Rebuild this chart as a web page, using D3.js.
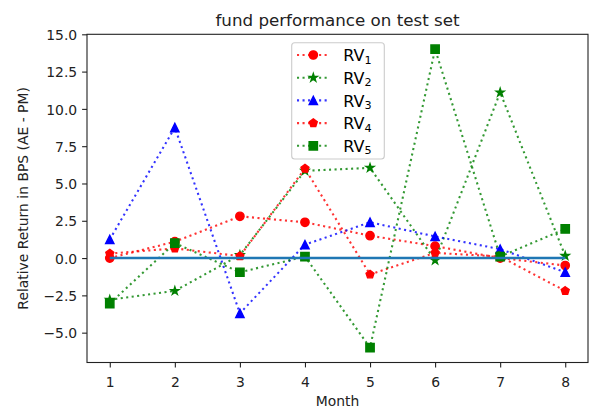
<!DOCTYPE html>
<html><head><meta charset="utf-8">
<script src="https://cdn.jsdelivr.net/npm/d3@7"></script>
<style>body{margin:0;background:#fff}svg{display:block}text{font-family:"DejaVu Sans",sans-serif}</style>
</head><body><svg id="c" width="589" height="411"></svg>
<script>
const months = [1, 2, 3, 4, 5, 6, 7, 8];
const rv1 = [0.0, 1.1, 2.8, 2.4, 1.5, 0.8, 0.0, -0.5];
const rv2 = [-2.8, -2.2, 0.2, 5.85, 6.05, -0.15, 11.1, 0.15];
const rv3 = [1.25, 8.75, -3.7, 0.9, 2.4, 1.45, 0.6, -0.95];
const rv4 = [0.3, 0.65, 0.13, 6.0, -1.1, 0.35, 0.1, -2.2];
const rv5 = [-3.05, 1.0, -0.95, 0.1, -6.0, 14.0, 0.1, 1.95];
const baseline = [0, 0, 0, 0, 0, 0, 0, 0];
const seriesNames = ["RV", "RV", "RV", "RV", "RV"];
const seriesSubs = ["1", "2", "3", "4", "5"];
const seriesColors = ["#ff0000", "#008000", "#0000ff", "#ff0000", "#008000"];
const seriesMarkers = ["circle", "star", "triangle", "pentagon", "square"];
const seriesValues = [rv1, rv2, rv3, rv4, rv5];
const yTicks = [-5.0, -2.5, 0.0, 2.5, 5.0, 7.5, 10.0, 12.5, 15.0];
const titleText = "fund performance on test set";
const xLabel = "Month";
const yLabel = "Relative Return in BPS (AE - PM)";

const svg = d3.select("#c");
const L = 87, R = 588, T = 34.3, B = 362.5;
const x = d3.scaleLinear().domain([0.65, 8.35]).range([L, R]);
const y = d3.scaleLinear().domain([-7, 15]).range([B, T]);

function markerPath(type, r) {
  const p = d3.path();
  if (type === "circle") { p.arc(0, 0, r, 0, 2 * Math.PI); p.closePath(); return p.toString(); }
  if (type === "square") { p.rect(-r, -r, 2 * r, 2 * r); return p.toString(); }
  if (type === "triangle") { p.moveTo(0, -r); p.lineTo(-r, r); p.lineTo(r, r); p.closePath(); return p.toString(); }
  if (type === "pentagon") {
    for (let i = 0; i < 5; i++) { const a = -Math.PI / 2 + i * 2 * Math.PI / 5; const px = r * Math.cos(a), py = r * Math.sin(a); i ? p.lineTo(px, py) : p.moveTo(px, py); }
    p.closePath(); return p.toString();
  }
  if (type === "star") {
    for (let i = 0; i < 10; i++) { const a = -Math.PI / 2 + i * Math.PI / 5; const rr = i % 2 ? r * 0.381966 : r; const px = rr * Math.cos(a), py = rr * Math.sin(a); i ? p.lineTo(px, py) : p.moveTo(px, py); }
    p.closePath(); return p.toString();
  }
}

svg.append("rect").attr("x", L).attr("y", T).attr("width", R - L).attr("height", B - T).attr("fill", "#fff");

const line = d3.line().x((d, i) => x(months[i])).y(d => y(d));
const ms = 4.17;

seriesValues.forEach((vals, k) => {
  const g = svg.append("g");
  g.append("path").attr("d", line(vals)).attr("fill", "none").attr("stroke", seriesColors[k])
    .attr("stroke-width", 2.08).attr("stroke-dasharray", "2.08,3.44").attr("stroke-opacity", 0.8);
  g.selectAll("path.m").data(vals).enter().append("path").attr("class", "m")
    .attr("d", markerPath(seriesMarkers[k], ms))
    .attr("transform", (d, i) => `translate(${x(months[i])},${y(d)})`)
    .attr("fill", seriesColors[k]).attr("stroke", seriesColors[k]).attr("stroke-width", 1.39);
});

svg.append("path").attr("d", line(baseline)).attr("fill", "none").attr("stroke", "#1f77b4").attr("stroke-width", 2.5);

const xAxis = d3.axisBottom(x).tickValues(months).tickSize(4.9).tickPadding(4.9).tickFormat(d3.format("d"));
const yAxis = d3.axisLeft(y).tickValues(yTicks).tickSize(4.9).tickPadding(4.9).tickFormat(d3.format(".1f"));
const gx = svg.append("g").attr("transform", `translate(0,${B})`).call(xAxis);
const gy = svg.append("g").attr("transform", `translate(${L},0)`).call(yAxis);
[gx, gy].forEach(g => {
  g.select(".domain").remove();
  g.selectAll("line").attr("stroke", "#222").attr("stroke-width", 1.1);
  g.selectAll("text").attr("font-family", "DejaVu Sans").attr("font-size", 13.9).attr("fill", "#222");
});
gx.selectAll("text").attr("dy", null).attr("y", 24.2);
gy.selectAll("text").attr("dy", null).attr("dominant-baseline", null).attr("y", 5.1).text(d => d3.format(".1f")(d).replace("-", "\u2212"));

svg.append("rect").attr("x", L).attr("y", T).attr("width", R - L).attr("height", B - T)
  .attr("fill", "none").attr("stroke", "#222").attr("stroke-width", 1.1);

svg.append("text").attr("x", (L + R) / 2).attr("y", 26).attr("text-anchor", "middle").attr("font-size", 16.7).attr("fill", "#222").text(titleText);
svg.append("text").attr("x", (L + R) / 2).attr("y", 405.5).attr("text-anchor", "middle").attr("font-size", 13.9).attr("fill", "#222").text(xLabel);
svg.append("text").attr("transform", `translate(28,${(T + B) / 2}) rotate(-90)`).attr("text-anchor", "middle").attr("font-size", 13.9).attr("fill", "#222").text(yLabel);

const lg = svg.append("g");
lg.append("rect").attr("x", 291.7).attr("y", 42.7).attr("width", 92.6).attr("height", 116.3).attr("rx", 3)
  .attr("fill", "#fff").attr("fill-opacity", 0.8).attr("stroke", "#cccccc").attr("stroke-width", 1.1);
seriesNames.forEach((nm, k) => {
  const cy = 55 + k * 22.7;
  lg.append("line").attr("x1", 297).attr("x2", 330).attr("y1", cy).attr("y2", cy)
    .attr("stroke", seriesColors[k]).attr("stroke-width", 2.08).attr("stroke-dasharray", "2.08,3.44").attr("stroke-opacity", 0.8);
  lg.append("path").attr("d", markerPath(seriesMarkers[k], ms)).attr("transform", `translate(313.3,${cy})`)
    .attr("fill", seriesColors[k]).attr("stroke", seriesColors[k]).attr("stroke-width", 1.39);
  const t = lg.append("text").attr("x", 343.3).attr("y", cy + 6.3).attr("font-family", "Liberation Sans, Arial, sans-serif").attr("font-size", 16).attr("fill", "#000");
  t.append("tspan").text(nm);
  t.append("tspan").attr("font-size", 11.2).attr("dy", 2.2).text(seriesSubs[k]);
});
</script></body></html>
